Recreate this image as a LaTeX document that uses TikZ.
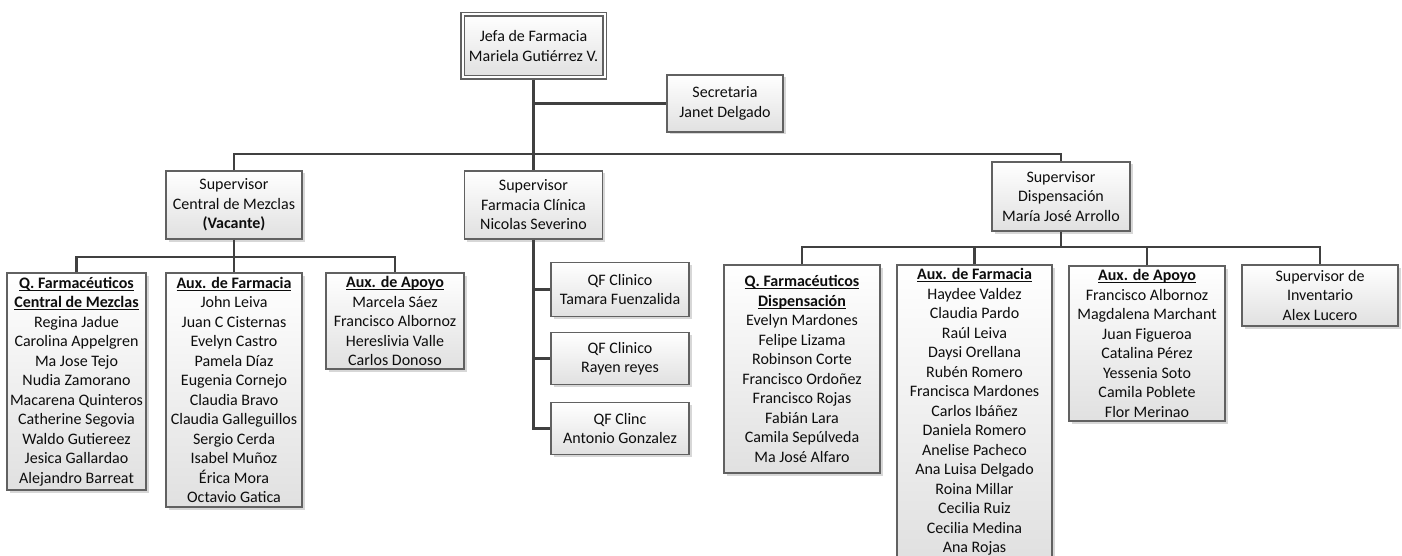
\documentclass[tikz,border=0pt]{standalone}
\usepackage{fontspec}
\setmainfont{Carlito}
\usetikzlibrary{shadows}

% bold heading with a flat underline just below the baseline
\newcommand\hdr[1]{\setbox0\hbox{\bfseries #1}\rlap{\rule[-2.4pt]{\wd0}{1.1pt}}\box0}

\tikzset{
  orgbox/.style={draw=black!62, line width=1.2pt, top color=white, bottom color=black!12,
    align=center, inner sep=0pt, text=black!95,
    font=\fontsize{16}{19.5}\selectfont,
    drop shadow={shadow xshift=2.5pt, shadow yshift=-2.5pt, opacity=0.35, fill=black!45}},
  link/.style={draw=black!75, line width=2.3pt},
}

\begin{document}
\begin{tikzpicture}[x=1pt, y=-1pt]
\useasboundingbox (0,0) rectangle (1402,556);
\clip (0,0) rectangle (1402,556);

% head of the pharmacy and secretary
\node[orgbox, double=white, double distance=2pt, line width=1.2pt,
      minimum width=142, minimum height=63] (jefa) at (533.5,46)
  {Jefa de Farmacia\\Mariela Gutiérrez V.};
\node[orgbox, minimum width=116, minimum height=57] (secr) at (725,103.5)
  {Secretaria\\Janet Delgado};

% supervisors
\node[orgbox, minimum width=136, minimum height=68] (supCM) at (234,205)
  {Supervisor\\Central de Mezclas\\\textbf{(Vacante)}};
\node[orgbox, minimum width=138, minimum height=68] (supFC) at (533.5,205)
  {Supervisor\\Farmacia Clínica\\Nicolas Severino};
\node[orgbox, minimum width=138, minimum height=69] (supD) at (1061,196.5)
  {Supervisor\\Dispensación\\María José Arrollo};

% Central de Mezclas teams
\node[orgbox, minimum width=139, minimum height=217] (qfCM) at (76.5,381.5)
  {\hdr{Q. Farmacéuticos}\\\hdr{Central de Mezclas}\\Regina Jadue\\Carolina Appelgren\\Ma Jose Tejo\\Nudia Zamorano\\Macarena Quinteros\\Catherine Segovia\\Waldo Gutiereez\\Jesica Gallardao\\Alejandro Barreat};
\node[orgbox, minimum width=136, minimum height=234] (auxFCM) at (234,390)
  {\hdr{Aux. de Farmacia}\\John Leiva\\Juan C Cisternas\\Evelyn Castro\\Pamela Díaz\\Eugenia Cornejo\\Claudia Bravo\\Claudia Galleguillos\\Sergio Cerda\\Isabel Muñoz\\Érica Mora\\Octavio Gatica};
\node[orgbox, minimum width=138, minimum height=96] (auxACM) at (395,321)
  {\hdr{Aux. de Apoyo}\\Marcela Sáez\\Francisco Albornoz\\Hereslivia Valle\\Carlos Donoso};

% clinical pharmacists
\node[orgbox, minimum width=138, minimum height=54] (qf1) at (620,289.5)
  {QF Clinico\\Tamara Fuenzalida};
\node[orgbox, minimum width=138, minimum height=52] (qf2) at (620,358.5)
  {QF Clinico\\Rayen reyes};
\node[orgbox, minimum width=138, minimum height=52] (qf3) at (620,428.5)
  {QF Clinc\\Antonio Gonzalez};

% Dispensación teams
\node[orgbox, minimum width=156, minimum height=208] (qfD) at (802,369)
  {\hdr{Q. Farmacéuticos}\\\hdr{Dispensación}\\Evelyn Mardones\\Felipe Lizama\\Robinson Corte\\Francisco Ordoñez\\Francisco Rojas\\Fabián Lara\\Camila Sepúlveda\\Ma José Alfaro};
\node[orgbox, minimum width=155, minimum height=294] (auxFD) at (974.5,412)
  {\hdr{Aux. de Farmacia}\\Haydee Valdez\\Claudia Pardo\\Raúl Leiva\\Daysi Orellana\\Rubén Romero\\Francisca Mardones\\Carlos Ibáñez\\Daniela Romero\\Anelise Pacheco\\Ana Luisa Delgado\\Roina Millar\\Cecilia Ruiz\\Cecilia Medina\\Ana Rojas};
\node[orgbox, minimum width=156, minimum height=155] (auxAD) at (1147,343.5)
  {\hdr{Aux. de Apoyo}\\Francisco Albornoz\\Magdalena Marchant\\Juan Figueroa\\Catalina Pérez\\Yessenia Soto\\Camila Poblete\\Flor Merinao};
\node[orgbox, minimum width=156, minimum height=61] (supInv) at (1320,295.5)
  {Supervisor de\\Inventario\\Alex Lucero};

% bus levels
\coordinate (yTop) at (0,154);
\coordinate (yCM) at (0,257);
\coordinate (yD) at (0,247);

% connectors
\draw[link] ([yshift=-1.6pt]jefa.south) -- (supFC.north);
\draw[link] (jefa.south |- secr.west) -- (secr.west);
\draw[link] (supCM.north) -- (supCM.north |- yTop) -| (supD.north);

\draw[link] (supCM.south) -- (auxFCM.north);
\draw[link] (qfCM.north) -- (qfCM.north |- yCM) -| (auxACM.north);

\draw[link] (supFC.south) |- (qf3.west);
\draw[link] (supFC.south |- qf1.west) -- (qf1.west);
\draw[link] (supFC.south |- qf2.west) -- (qf2.west);

\draw[link] (supD.south) -- (supD.south |- yD);
\draw[link] (qfD.north) -- (qfD.north |- yD) -| (supInv.north);
\draw[link] (auxFD.north) -- (auxFD.north |- yD);
\draw[link] (auxAD.north) -- (auxAD.north |- yD);
\end{tikzpicture}
\end{document}
